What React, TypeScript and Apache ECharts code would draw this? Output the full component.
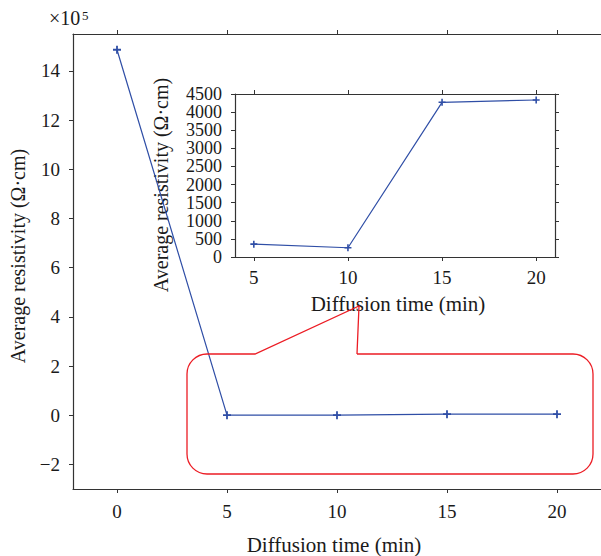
import React, { useEffect, useRef } from "react";
import * as echarts from "echarts";

// ---- data ----
const diffusionTimes = [0, 5, 10, 15, 20];
const avgResistivity = [1486000, 355, 255, 4270, 4335];
const insetTimes = [5, 10, 15, 20];
const insetResistivity = [355, 255, 4270, 4335];

const mainXTicks = [0, 5, 10, 15, 20];
const mainYTicks = [-200000, 0, 200000, 400000, 600000, 800000, 1000000, 1200000, 1400000];
const insetXTicks = [5, 10, 15, 20];
const insetYTicks = [0, 500, 1000, 1500, 2000, 2500, 3000, 3500, 4000, 4500];

const FONT = "Liberation Serif";
const BLUE = "#2f4ea6";
const RED = "#ec1c24";
const AXIS = "#333";
const TXT = "#1a1a1a";

const calloutD =
  "M357 354 L573 354 C584.05 354 593 362.95 593 374 L593 454 C593 465.05 584.05 474 573 474 " +
  "L207 474 C195.95 474 187 465.05 187 454 L187 374 C187 362.95 195.95 354 207 354 L255 354 L359 306 L357 354";
echarts.graphic.registerShape("callout", echarts.graphic.extendPath(calloutD, {}));

const plusSymbol = "path://M-0.9,-4H0.9V-0.9H4V0.9H0.9V4H-0.9V0.9H-4V-0.9H-0.9Z";

const fmtNum = (v: number) => (v < 0 ? "\u2212" + String(-v) : String(v));

export default function App() {
  const ref = useRef<HTMLDivElement>(null);
  useEffect(() => {
    if (!ref.current) return;
    const chart = echarts.init(ref.current, null, { renderer: "svg" });
    const tickStyle = { show: true, inside: false, length: 4, lineStyle: { color: AXIS, width: 1 } };
    const lineStyle = { show: true, lineStyle: { color: AXIS, width: 1.2 } };
    const labelBase = { fontFamily: FONT, fontSize: 19, color: TXT, showMinLabel: true, showMaxLabel: true, hideOverlap: false };
    const insetYLabelsA = insetYTicks.filter((_, i) => i % 2 === 0);
    const insetYLabelsB = insetYTicks.filter((_, i) => i % 2 === 1);
    chart.setOption({
      animation: false,
      backgroundColor: "#fff",
      grid: [
        { left: 73, top: 34, width: 529, height: 455, show: false },
        { left: 235, top: 94, width: 320, height: 163, show: true, backgroundColor: "#fff", borderWidth: 0 },
      ],
      xAxis: [
        {
          gridIndex: 0, type: "value", position: "bottom", min: -2, max: 22,
          axisLine: { ...lineStyle, onZero: false },
          axisTick: { ...tickStyle, customValues: mainXTicks },
          axisLabel: { ...labelBase, margin: 13, customValues: mainXTicks, formatter: (v: number) => String(v) },
          splitLine: { show: false },
        },
        {
          gridIndex: 0, type: "value", position: "top", min: -2, max: 22,
          axisLine: { ...lineStyle, onZero: false },
          axisTick: { ...tickStyle, customValues: mainXTicks },
          axisLabel: { show: false },
          splitLine: { show: false },
        },
        {
          gridIndex: 1, type: "value", position: "bottom", min: 4, max: 21,
          axisLine: { ...lineStyle, onZero: false },
          axisTick: { ...tickStyle, customValues: insetXTicks },
          axisLabel: { ...labelBase, margin: 11, customValues: insetXTicks, formatter: (v: number) => String(v) },
          splitLine: { show: false },
        },
        {
          gridIndex: 1, type: "value", position: "top", min: 4, max: 21,
          axisLine: { ...lineStyle, onZero: false },
          axisTick: { ...tickStyle, customValues: insetXTicks },
          axisLabel: { show: false },
          splitLine: { show: false },
        },
      ],
      yAxis: [
        {
          gridIndex: 0, type: "value", position: "left", min: -300000, max: 1550000,
          axisLine: { ...lineStyle, onZero: false },
          axisTick: { ...tickStyle, customValues: mainYTicks },
          axisLabel: { ...labelBase, margin: 13, customValues: mainYTicks, formatter: (v: number) => fmtNum(v / 100000) },
          splitLine: { show: false },
        },
        {
          gridIndex: 1, type: "value", position: "left", min: 0, max: 4500,
          axisLine: { ...lineStyle, onZero: false },
          axisTick: { ...tickStyle, customValues: insetYTicks },
          axisLabel: { ...labelBase, fontSize: 18, margin: 13, customValues: insetYLabelsA, formatter: (v: number) => String(v) },
          splitLine: { show: false },
        },
        {
          gridIndex: 1, type: "value", position: "right", min: 0, max: 4500,
          axisLine: { ...lineStyle, onZero: false },
          axisTick: { ...tickStyle, customValues: insetYTicks },
          axisLabel: { show: false },
          splitLine: { show: false },
        },
        {
          gridIndex: 1, type: "value", position: "left", min: 0, max: 4500,
          axisLine: { show: false },
          axisTick: { show: false },
          axisLabel: { ...labelBase, fontSize: 18, margin: 13, customValues: insetYLabelsB, formatter: (v: number) => String(v) },
          splitLine: { show: false },
        },
      ],
      series: [
        {
          type: "line", xAxisIndex: 0, yAxisIndex: 0, clip: false,
          data: diffusionTimes.map((t, i) => [t, avgResistivity[i]]),
          symbol: plusSymbol, symbolSize: 8,
          lineStyle: { color: BLUE, width: 1.2 }, itemStyle: { color: BLUE },
          z: 3,
        },
        {
          type: "line", xAxisIndex: 2, yAxisIndex: 1, clip: false,
          data: insetTimes.map((t, i) => [t, insetResistivity[i]]),
          symbol: plusSymbol, symbolSize: 7,
          lineStyle: { color: BLUE, width: 1.2 }, itemStyle: { color: BLUE },
          z: 5,
        },
      ],
      graphic: [
        { type: "callout", x: 0, y: 0, z: 4, style: { fill: "none", stroke: RED, lineWidth: 1.3 } },
        {
          type: "text", x: 334, y: 545, z: 10,
          style: { text: "Diffusion time (min)", font: `21px '${FONT}'`, fill: TXT, align: "center", verticalAlign: "middle" },
        },
        {
          type: "text", x: 18, y: 256, rotation: Math.PI / 2, z: 10,
          style: { text: "Average resistivity (\u03a9\u00b7cm)", font: `20px '${FONT}'`, fill: TXT, align: "center", verticalAlign: "middle" },
        },
        {
          type: "text", x: 398, y: 304, z: 3,
          style: { text: "Diffusion time (min)", font: `21px '${FONT}'`, fill: TXT, align: "center", verticalAlign: "middle" },
        },
        {
          type: "text", x: 161, y: 185, rotation: Math.PI / 2, z: 2,
          style: { text: "Average resistivity (\u03a9\u00b7cm)", font: `20px '${FONT}'`, fill: TXT, align: "center", verticalAlign: "middle" },
        },
        {
          type: "text", x: 49, y: 28, z: 10,
          style: { text: "\u00d710", font: `20px '${FONT}'`, fill: TXT, align: "left", verticalAlign: "bottom" },
        },
        {
          type: "text", x: 82, y: 22, z: 10,
          style: { text: "5", font: `13px '${FONT}'`, fill: TXT, align: "left", verticalAlign: "bottom" },
        },
      ],
    });
    return () => chart.dispose();
  }, []);
  return (
    <div
      ref={ref}
      style={{ position: "fixed", left: 0, top: 0, width: 601, height: 556, overflow: "hidden", background: "#fff" }}
    />
  );
}
